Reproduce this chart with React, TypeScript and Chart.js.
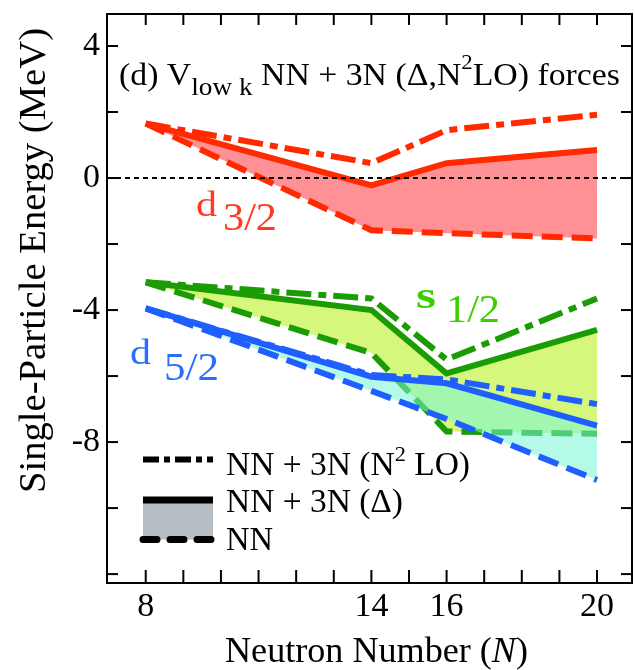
import React, { useEffect, useRef } from 'react';
import { Chart, registerables } from 'chart.js';

Chart.register(...registerables);

// ---- data ----
const neutronNumbers = [8, 14, 16, 20];

const d32N2LO = [1.65, 0.45, 1.45, 1.92];
const d32Delta = [1.65, -0.22, 0.45, 0.85];
const d32NN = [1.65, -1.58, -1.67, -1.83];

const s12N2LO = [-3.16, -3.65, -5.5, -3.65];
const s12Delta = [-3.16, -4.0, -5.92, -4.6];
const s12NN = [-3.16, -5.3, -7.68, -7.75];

const d52N2LO = [-3.95, -5.97, -6.1, -6.85];
const d52Delta = [-3.95, -6.02, -6.22, -7.5];
const d52NN = [-3.95, -6.45, -7.3, -9.15];

const xTickValues = [8, 9, 10, 11, 12, 13, 14, 15, 16, 17, 18, 19, 20];
const xLabelValues = [8, 14, 16, 20];
const yTickValues = [-12, -10, -8, -6, -4, -2, 0, 2, 4];
const yLabelValues = [-8, -4, 0, 4];
const xRange = [6.97, 20.93];
const yRange = [-12.27, 4.97];

// ---- styles ----
const FONT = '"Liberation Serif", "DejaVu Serif", "Times New Roman", serif';
const RED = '#ff2a00';
const RED_FILL = '#ff9196';
const RED_LABEL = '#ff3a1e';
const GREEN = '#1c9c04';
const GREEN_FILL = '#d5f77c';
const GREEN_LABEL = '#3ccf00';
const BLUE = '#1f5fff';
const BLUE_FILL = 'rgba(120,245,215,0.55)';
const BLUE_LABEL = '#2a6eff';
const DASHED = [21, 9];
const DASHDOT = [25, 7, 8, 7];

const pts = (vals: number[]) => neutronNumbers.map((n, i) => ({ x: n, y: vals[i] }));

function lineDs(vals: number[], color: string, dash: number[], fill: any = false, bg = 'transparent') {
  return {
    data: pts(vals),
    borderColor: color,
    borderWidth: 6,
    borderDash: dash,
    borderCapStyle: 'butt',
    borderJoinStyle: 'miter',
    fill,
    backgroundColor: bg,
    pointRadius: 0,
    tension: 0,
  };
}

type Run = { t: string; size: number; dy?: number; bold?: boolean; italic?: boolean };

function drawRuns(
  ctx: CanvasRenderingContext2D,
  runs: Run[],
  x: number,
  y: number,
  color: string,
  targetWidth?: number,
  rotate = false
) {
  const fontOf = (r: Run) => `${r.italic ? 'italic ' : ''}${r.bold ? 'bold ' : ''}${r.size}px ${FONT}`;
  ctx.save();
  ctx.fillStyle = color;
  ctx.textAlign = 'left';
  ctx.textBaseline = 'alphabetic';
  let total = 0;
  for (const r of runs) {
    ctx.font = fontOf(r);
    total += ctx.measureText(r.t).width;
  }
  const s = targetWidth ? targetWidth / total : 1;
  ctx.translate(x, y);
  if (rotate) ctx.rotate(-Math.PI / 2);
  ctx.scale(s, 1);
  let cx = 0;
  for (const r of runs) {
    ctx.font = fontOf(r);
    ctx.fillText(r.t, cx, r.dy || 0);
    cx += ctx.measureText(r.t).width;
  }
  ctx.restore();
}

const decorPlugin = {
  id: 'decor',
  afterDatasetsDraw(chart: any) {
    const { ctx, chartArea: a, scales } = chart;
    const xs = scales.x;
    const ys = scales.y;
    ctx.save();
    ctx.strokeStyle = '#000';
    ctx.lineWidth = 2;
    ctx.setLineDash([]);
    const seg = (x1: number, y1: number, x2: number, y2: number) => {
      ctx.beginPath();
      ctx.moveTo(x1, y1);
      ctx.lineTo(x2, y2);
      ctx.stroke();
    };
    for (const t of xs.ticks) {
      const px = xs.getPixelForValue(t.value);
      seg(px, a.bottom, px, a.bottom - 13);
      seg(px, a.top, px, a.top + 11);
    }
    for (const t of ys.ticks) {
      const py = ys.getPixelForValue(t.value);
      seg(a.left, py, a.left + 11, py);
      seg(a.right, py, a.right - 11, py);
    }
    ctx.strokeRect(a.left, a.top, a.right - a.left, a.bottom - a.top);

    // title inside the frame
    drawRuns(
      ctx,
      [
        { t: '(d) V', size: 31 },
        { t: 'low k', size: 25, dy: 10 },
        { t: ' NN + 3N (\u0394,N', size: 31 },
        { t: '2', size: 21, dy: -16 },
        { t: 'LO) forces', size: 31 },
      ],
      119,
      85,
      '#000',
      501
    );

    // orbital labels
    drawRuns(ctx, [{ t: 'd', size: 36 }], 196, 216, RED_LABEL, 21);
    drawRuns(ctx, [{ t: '3/2', size: 40 }], 223, 230, RED_LABEL, 54);
    drawRuns(ctx, [{ t: 's', size: 38, bold: true }], 416, 308, GREEN_LABEL, 20);
    drawRuns(ctx, [{ t: '1/2', size: 40 }], 446, 322, GREEN_LABEL, 54);
    drawRuns(ctx, [{ t: 'd', size: 36 }], 130, 364, BLUE_LABEL, 21);
    drawRuns(ctx, [{ t: '5/2', size: 40 }], 164, 380, BLUE_LABEL, 55);

    // legend
    ctx.fillStyle = '#b5bfc3';
    ctx.fillRect(143, 500, 70, 39.5);
    ctx.strokeStyle = '#000';
    ctx.lineWidth = 6;
    ctx.setLineDash([16, 5, 6, 5]);
    seg(143, 459.5, 213, 459.5);
    ctx.setLineDash([]);
    ctx.lineWidth = 7;
    seg(143, 500, 213, 500);
    ctx.lineCap = 'round';
    ctx.setLineDash([14, 13]);
    seg(143, 539.5, 213, 539.5);
    ctx.lineCap = 'butt';
    ctx.setLineDash([]);
    drawRuns(
      ctx,
      [
        { t: 'NN + 3N (N', size: 33 },
        { t: '2', size: 22, dy: -14 },
        { t: ' LO)', size: 33 },
      ],
      226,
      475,
      '#000',
      244
    );
    drawRuns(ctx, [{ t: 'NN + 3N (\u0394)', size: 33 }], 226, 512, '#000', 177);
    drawRuns(ctx, [{ t: 'NN', size: 33 }], 226, 550, '#000', 47);

    // axis titles
    drawRuns(
      ctx,
      [
        { t: 'Neutron Number (', size: 36 },
        { t: 'N', size: 36, italic: true },
        { t: ')', size: 36 },
      ],
      225,
      662,
      '#000',
      303
    );
    drawRuns(ctx, [{ t: 'Single-Particle Energy (MeV)', size: 37 }], 45, 493, '#000', 465, true);
    ctx.restore();
  },
};

export default function App() {
  const ref = useRef<HTMLCanvasElement>(null);
  useEffect(() => {
    if (!ref.current) return;
    const datasets: any[] = [
      lineDs(d52Delta, BLUE, []), // 0
      lineDs(d52N2LO, BLUE, DASHDOT), // 1
      lineDs(d52NN, BLUE, DASHED, 0, BLUE_FILL), // 2
      lineDs(s12Delta, GREEN, []), // 3
      lineDs(s12N2LO, GREEN, DASHDOT), // 4
      lineDs(s12NN, GREEN, DASHED, 3, GREEN_FILL), // 5
      {
        data: [
          { x: xRange[0], y: 0 },
          { x: xRange[1], y: 0 },
        ],
        borderColor: '#000',
        borderWidth: 2,
        borderDash: [5, 4],
        fill: false,
        pointRadius: 0,
      }, // 6
      lineDs(d32Delta, RED, []), // 7
      lineDs(d32N2LO, RED, DASHDOT), // 8
      lineDs(d32NN, RED, DASHED, 7, RED_FILL), // 9
    ];
    const chart = new Chart(ref.current, {
      type: 'line',
      data: { datasets },
      options: {
        responsive: false,
        animation: false,
        devicePixelRatio: 1,
        layout: { autoPadding: false, padding: { top: 14, right: 3, left: 0, bottom: 0 } },
        plugins: {
          legend: { display: false },
          tooltip: { enabled: false },
          filler: { propagate: false },
        },
        scales: {
          x: {
            type: 'linear',
            min: xRange[0],
            max: xRange[1],
            afterBuildTicks: (s: any) => {
              s.ticks = xTickValues.map((v) => ({ value: v }));
            },
            afterFit: (s: any) => {
              s.height = 87;
              s.paddingLeft = 0;
              s.paddingRight = 0;
              s.paddingTop = 0;
              s.paddingBottom = 0;
            },
            grid: { display: false, drawTicks: false, tickLength: 0 },
            border: { display: false },
            ticks: {
              autoSkip: false,
              maxRotation: 0,
              padding: 4,
              color: '#000',
              font: { family: FONT, size: 34 },
              callback: (v: any) => (xLabelValues.includes(Number(v)) ? String(v) : ''),
            },
          },
          y: {
            type: 'linear',
            min: yRange[0],
            max: yRange[1],
            afterBuildTicks: (s: any) => {
              s.ticks = yTickValues.map((v) => ({ value: v }));
            },
            afterFit: (s: any) => {
              s.width = 107;
              s.paddingLeft = 0;
              s.paddingRight = 0;
              s.paddingTop = 0;
              s.paddingBottom = 0;
            },
            grid: { display: false, drawTicks: false, tickLength: 0 },
            border: { display: false },
            ticks: {
              autoSkip: false,
              padding: 7,
              color: '#000',
              font: { family: FONT, size: 34 },
              callback: (v: any) => (yLabelValues.includes(Number(v)) ? String(v) : ''),
            },
          },
        },
      } as any,
      plugins: [decorPlugin],
    } as any);
    return () => chart.destroy();
  }, []);
  return (
    <div style={{ position: 'absolute', left: 0, top: 0, width: 635, height: 670, background: '#fff' }}>
      <canvas ref={ref} width={635} height={670} style={{ display: 'block' }} />
    </div>
  );
}
